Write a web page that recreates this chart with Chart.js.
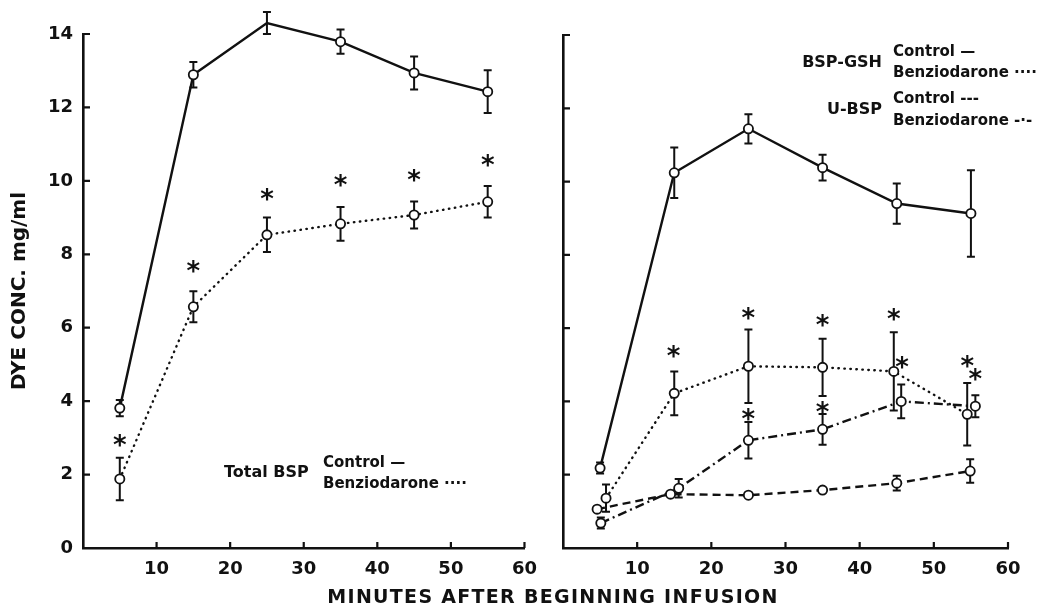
<!DOCTYPE html>
<html>
<head>
<meta charset="utf-8">
<script src="https://cdn.jsdelivr.net/npm/chart.js@4.4.1/dist/chart.umd.min.js"></script>
<style>
  html, body { margin: 0; padding: 0; background: #fff; }
  #wrap { position: relative; width: 1037px; height: 611px; overflow: hidden; }
  #left { position: absolute; left: 0; top: 0; }
  #right { position: absolute; left: 530px; top: 0; }
  #xtitle { position: absolute; left: 0; width: 1106px; top: 585px; text-align: center;
            font: bold 19px "DejaVu Sans"; letter-spacing: 1.3px; color: #111; }
</style>
</head>
<body>
<div id="wrap">
  <canvas id="left" width="540" height="611"></canvas>
  <canvas id="right" width="507" height="611"></canvas>
  <div id="xtitle">MINUTES AFTER BEGINNING INFUSION</div>
</div>
<script>
// left panel: total BSP
var minutes = [5, 15, 25, 35, 45, 55];
var totalCtrl = [3.81, 12.89, 14.3, 13.79, 12.94, 12.43];
var totalCtrlErr = [0.22, 0.35, 0.3, 0.33, 0.45, 0.58];
var totalBenz = [1.88, 6.57, 8.53, 8.83, 9.07, 9.43];
var totalBenzErr = [0.58, 0.42, 0.47, 0.46, 0.37, 0.43];
var leftStarX = [5, 15, 25, 35, 45, 55];
var leftStarY = [2.97, 7.7, 9.67, 10.05, 10.19, 10.6];

// right panel: BSP-GSH and U-BSP
var gshCtrlX = [5, 15, 25, 35, 45, 55];
var gshCtrl = [2.18, 10.24, 11.44, 10.38, 9.4, 9.13];
var gshCtrlErr = [0.15, 0.69, 0.4, 0.35, 0.55, 1.18];
var gshBenzX = [5.8, 15, 25, 35, 44.6, 54.5];
var gshBenz = [1.36, 4.22, 4.96, 4.93, 4.82, 3.65];
var gshBenzErr = [0.37, 0.6, 1.0, 0.78, 1.07, 0.85];
var ubspCtrlX = [4.6, 14.5, 25, 35, 45, 54.9];
var ubspCtrl = [1.06, 1.47, 1.44, 1.58, 1.77, 2.1];
var ubspCtrlErr = [0, 0, 0, 0, 0.2, 0.32];
var ubspBenzX = [5.1, 15.6, 25, 35, 45.6, 55.6];
var ubspBenz = [0.68, 1.63, 2.94, 3.24, 4.0, 3.87];
var ubspBenzErr = [0.15, 0.25, 0.5, 0.42, 0.46, 0.3];
var rightStarX = [14.9, 25, 25, 35, 35, 44.6, 45.7, 54.5, 55.6];
var rightStarY = [5.4, 6.43, 3.68, 6.24, 3.87, 6.4, 5.1, 5.12, 4.77];

var xTicks = [10, 20, 30, 40, 50, 60];
var yTicks = [0, 2, 4, 6, 8, 10, 12, 14];

var INK = '#111';

function pts(xs, ys) {
  return xs.map(function (x, i) { return { x: x, y: ys[i] }; });
}

function series(xs, ys, err, dash, cap) {
  return {
    data: pts(xs, ys),
    err: err,
    clip: false,
    borderColor: INK,
    borderWidth: 2.4,
    borderDash: dash,
    borderCapStyle: cap || 'butt',
    pointRadius: 4.6,
    pointBorderWidth: 1.8,
    pointBackgroundColor: '#fff',
    pointBorderColor: INK,
    tension: 0
  };
}

// error bars under the points
var errorBars = {
  id: 'errorBars',
  beforeDatasetsDraw: function (chart) {
    var ctx = chart.ctx, xs = chart.scales.x, ys = chart.scales.y;
    ctx.save();
    ctx.strokeStyle = INK;
    ctx.lineWidth = 2;
    chart.data.datasets.forEach(function (ds) {
      ds.data.forEach(function (p, i) {
        var e = ds.err[i];
        if (!e) return;
        var px = xs.getPixelForValue(p.x);
        var top = ys.getPixelForValue(p.y + e), bot = ys.getPixelForValue(p.y - e);
        ctx.beginPath();
        ctx.moveTo(px, top); ctx.lineTo(px, bot);
        ctx.moveTo(px - 4, top); ctx.lineTo(px + 4, top);
        ctx.moveTo(px - 4, bot); ctx.lineTo(px + 4, bot);
        ctx.stroke();
      });
    });
    ctx.restore();
  }
};

// inward tick marks, asterisks and the typed legend
var decorations = {
  id: 'decorations',
  afterDraw: function (chart) {
    var ctx = chart.ctx, xs = chart.scales.x, ys = chart.scales.y;
    var a = chart.chartArea, o = chart.options.plugins.decorations;
    ctx.save();
    ctx.strokeStyle = INK;
    ctx.lineWidth = 2.2;
    ctx.beginPath();
    yTicks.forEach(function (v) {
      var py = ys.getPixelForValue(v);
      ctx.moveTo(a.left, py); ctx.lineTo(a.left + 7, py);
    });
    xTicks.forEach(function (v) {
      var px = xs.getPixelForValue(v);
      ctx.moveTo(px, a.bottom); ctx.lineTo(px, a.bottom - 6);
    });
    ctx.stroke();

    ctx.fillStyle = INK;
    ctx.font = 'bold 26px "DejaVu Sans"';
    ctx.textAlign = 'center';
    ctx.textBaseline = 'alphabetic';
    o.starX.forEach(function (x, i) {
      ctx.fillText('*', xs.getPixelForValue(x), ys.getPixelForValue(o.starY[i]) + 15);
    });

    ctx.textBaseline = 'middle';
    o.notes.forEach(function (n) {
      ctx.font = n.font || 'bold 15px "DejaVu Sans"';
      ctx.textAlign = n.align || 'left';
      ctx.fillText(n.text, n.x, n.y);
    });
    ctx.restore();
  }
};

function options(isLeft, extra) {
  return {
    responsive: false,
    animation: false,
    layout: { padding: { top: isLeft ? 34 : 35, right: isLeft ? 11 : 29, left: 0, bottom: 0 } },
    plugins: {
      legend: { display: false },
      tooltip: { enabled: false },
      decorations: extra
    },
    scales: {
      x: {
        type: 'linear', min: 0, max: 60,
        grid: { display: false },
        border: { color: INK, width: 2.6 },
        afterFit: function (s) { s.height = 63; },
        ticks: {
          stepSize: 10, padding: 3, color: INK, maxRotation: 0,
          font: { family: 'DejaVu Sans', weight: 'bold', size: 18 },
          callback: function (v) { return v === 0 ? '' : v; }
        }
      },
      y: {
        min: 0, max: 14,
        grid: { display: false },
        border: { color: INK, width: 2.6 },
        afterFit: function (s) { s.width = isLeft ? 83 : 33; },
        title: {
          display: isLeft, text: 'DYE CONC. mg/ml', color: INK,
          font: { family: 'DejaVu Sans', weight: 'bold', size: 20 },
          padding: { top: 8, bottom: 0 }
        },
        ticks: {
          display: isLeft, stepSize: 2, padding: 2, color: INK,
          font: { family: 'DejaVu Sans', weight: 'bold', size: 18 }
        }
      }
    }
  };
}

new Chart(document.getElementById('left'), {
  type: 'line',
  data: {
    datasets: [
      series(minutes, totalCtrl, totalCtrlErr, []),
      series(minutes, totalBenz, totalBenzErr, [0.5, 5.5], 'round')
    ]
  },
  options: options(true, {
    starX: leftStarX, starY: leftStarY,
    notes: [
      { text: 'Total BSP', x: 224, y: 473, font: 'bold 16px "DejaVu Sans"' },
      { text: 'Control —', x: 323, y: 463 },
      { text: 'Benziodarone ····', x: 323, y: 484 }
    ]
  }),
  plugins: [errorBars, decorations]
});

new Chart(document.getElementById('right'), {
  type: 'line',
  data: {
    datasets: [
      series(gshCtrlX, gshCtrl, gshCtrlErr, []),
      series(gshBenzX, gshBenz, gshBenzErr, [0.5, 5.5], 'round'),
      series(ubspCtrlX, ubspCtrl, ubspCtrlErr, [8, 5]),
      series(ubspBenzX, ubspBenz, ubspBenzErr, [9, 4, 2, 4])
    ]
  },
  options: options(false, {
    starX: rightStarX, starY: rightStarY,
    notes: [
      { text: 'BSP-GSH', x: 352, y: 63, align: 'right', font: 'bold 16px "DejaVu Sans"' },
      { text: 'Control —', x: 363, y: 52 },
      { text: 'Benziodarone ····', x: 363, y: 73 },
      { text: 'U-BSP', x: 352, y: 110, align: 'right', font: 'bold 16px "DejaVu Sans"' },
      { text: 'Control ---', x: 363, y: 99 },
      { text: 'Benziodarone -·-', x: 363, y: 121 }
    ]
  }),
  plugins: [errorBars, decorations]
});
</script>
</body>
</html>
